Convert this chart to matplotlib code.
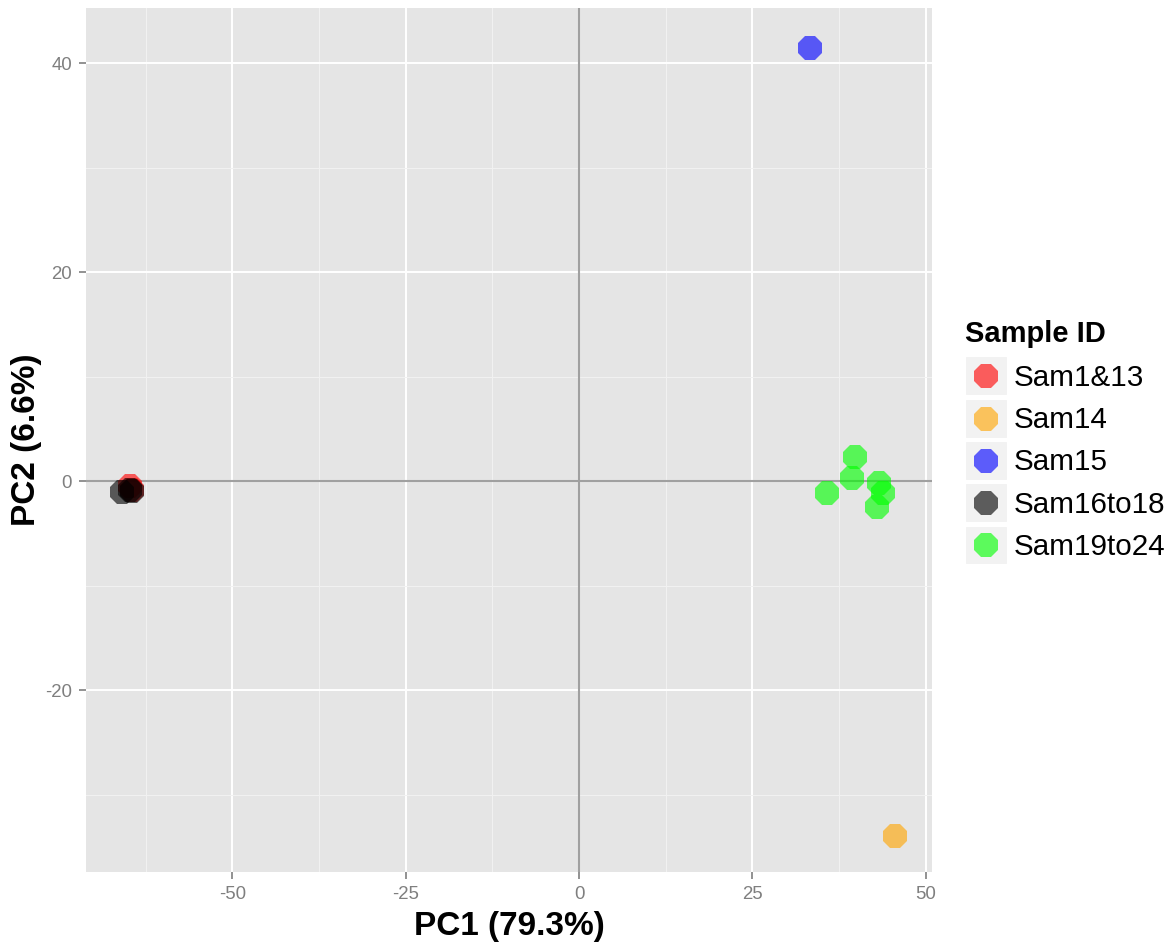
import matplotlib
matplotlib.use("Agg")
import matplotlib.pyplot as plt
from matplotlib.legend_handler import HandlerBase
from matplotlib.patches import Rectangle
from matplotlib.lines import Line2D
from matplotlib.ticker import MultipleLocator

plt.rcParams["font.family"] = ["Liberation Sans", "DejaVu Sans"]
plt.rcParams["axes.unicode_minus"] = False

# PCA scores per sample group
groups = ["Sam1&13", "Sam14", "Sam15", "Sam16to18", "Sam19to24"]
colors = ["#FF0000", "#FFA500", "#0000FF", "#000000", "#00FF00"]

pc1_sam1_13 = [-64.7, -64.5]
pc2_sam1_13 = [-0.5, -0.8]
pc1_sam14 = [45.5]
pc2_sam14 = [-34.0]
pc1_sam15 = [33.3]
pc2_sam15 = [41.5]
pc1_sam16_18 = [-65.9, -64.8, -64.5]
pc2_sam16_18 = [-1.0, -0.8, -0.9]
pc1_sam19_24 = [39.8, 39.3, 35.8, 43.3, 43.9, 42.9]
pc2_sam19_24 = [2.3, 0.3, -1.1, -0.2, -1.1, -2.5]

pc1 = [pc1_sam1_13, pc1_sam14, pc1_sam15, pc1_sam16_18, pc1_sam19_24]
pc2 = [pc2_sam1_13, pc2_sam14, pc2_sam15, pc2_sam16_18, pc2_sam19_24]

ALPHA = 0.62
MS = 19


class KeyHandler(HandlerBase):
    # grey key box with the point drawn in the middle
    def create_artists(self, legend, orig_handle, xdescent, ydescent,
                       width, height, fontsize, trans):
        bg = Rectangle((-xdescent, -ydescent), width, height,
                       facecolor="#F2F2F2", edgecolor="white", lw=1.5,
                       transform=trans)
        pt = Line2D([width / 2 - xdescent], [height / 2 - ydescent],
                    marker="8", ms=MS, ls="", mew=0,
                    color=orig_handle.get_color(), alpha=ALPHA,
                    transform=trans)
        return [bg, pt]


fig = plt.figure(figsize=(11.74, 9.5), dpi=100)
ax = fig.add_axes([0.0733, 0.0821, 0.7206, 0.9095])
ax.set_facecolor("#E5E5E5")
for s in ax.spines.values():
    s.set_visible(False)

ax.set_xlim(-71.1, 50.9)
ax.set_ylim(-37.4, 45.3)
ax.xaxis.set_major_locator(MultipleLocator(25))
ax.xaxis.set_minor_locator(MultipleLocator(12.5))
ax.yaxis.set_major_locator(MultipleLocator(20))
ax.yaxis.set_minor_locator(MultipleLocator(10))
ax.grid(which="major", color="white", lw=1.4)
ax.grid(which="minor", color="#F2F2F2", lw=0.7)
ax.set_axisbelow(True)
ax.tick_params(which="major", length=5, width=1.2, color="#7F7F7F",
               labelcolor="#7F7F7F", labelsize=13.4, pad=5)
ax.tick_params(which="minor", length=0)

ax.axhline(0, color="#A0A0A0", lw=1.5, zorder=1)
ax.axvline(0, color="#A0A0A0", lw=1.5, zorder=1)

handles = []
for name, c, xs, ys in zip(groups, colors, pc1, pc2):
    ax.plot(xs, ys, ls="", marker="8", ms=MS, mew=0, color=c,
            alpha=ALPHA, zorder=3)
    handles.append(Line2D([], [], color=c, label=name))

ax.set_xlabel("PC1 (79.3%)", fontsize=24, fontweight="bold", labelpad=6)
ax.set_ylabel("PC2 (6.6%)", fontsize=24, fontweight="bold", labelpad=2)

leg = fig.legend(handles=handles, labels=groups, title="Sample ID",
                 loc="center left", bbox_to_anchor=(0.822, 0.534),
                 frameon=False, fontsize=21.3, title_fontsize=21,
                 handler_map={Line2D: KeyHandler()},
                 handlelength=1.45, handleheight=1.7, handletextpad=0.2,
                 labelspacing=0.08, borderpad=0, borderaxespad=0,
                 alignment="left")
leg.get_title().set_fontweight("bold")
# a bit more room between the title and the first key
leg._legend_box.sep = 6

fig.savefig("out.png", dpi=100)
